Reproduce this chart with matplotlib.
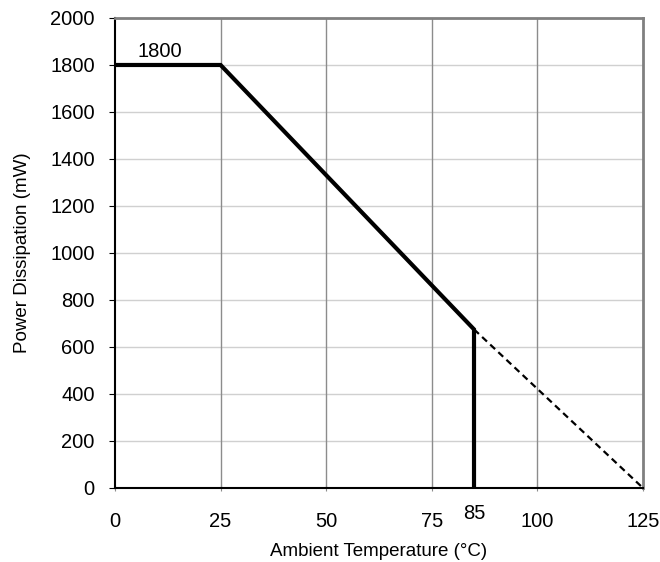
import matplotlib.pyplot as plt

plt.rcParams['font.family'] = ['Liberation Sans', 'DejaVu Sans']

# derating curve
solid_x = [0, 25, 85, 85]
solid_y = [1800, 1800, 675, 0]
dash_x = [85, 125]
dash_y = [675, 0]

x_ticks = [0, 25, 50, 75, 100, 125]
y_ticks = list(range(0, 2001, 200))

fig = plt.figure(figsize=(6.6, 5.62), dpi=100)
ax = fig.add_axes([0.1742, 0.1317, 0.8, 0.8363])

# grid: light horizontal, darker vertical
for y in y_ticks[1:-1]:
    ax.axhline(y, color='#d0d0d0', linewidth=1, zorder=1)
for x in x_ticks[1:-1]:
    ax.axvline(x, color='#8c8c8c', linewidth=1, zorder=1)

ax.plot(solid_x, solid_y, color='black', linewidth=3, solid_capstyle='butt',
        solid_joinstyle='miter', zorder=3)
ax.plot(dash_x, dash_y, color='black', linewidth=1.6, linestyle=(0, (3, 2)), zorder=3)

ax.text(10.5, 1815, '1800', ha='center', va='bottom', fontsize=14.5)

ax.set_xlim(0, 125)
ax.set_ylim(0, 2000)
ax.set_xticks(x_ticks)
ax.set_yticks(y_ticks)
ax.tick_params(axis='x', labelsize=14.5, pad=15, length=4, direction='inout', color='#8c8c8c')
ax.tick_params(axis='y', labelsize=14.5, pad=10.5, length=4, direction='out')

# the 85 label sits a little higher than the others
ax.text(85, -70, '85', ha='center', va='top', fontsize=14.5, clip_on=False)

for side in ['top', 'right']:
    ax.spines[side].set_color('#808080')
    ax.spines[side].set_linewidth(2)
for side in ['left', 'bottom']:
    ax.spines[side].set_color('black')
    ax.spines[side].set_linewidth(1.5)

ax.set_xlabel('Ambient Temperature (°C)', fontsize=13.5, labelpad=9)
ax.set_ylabel('Power Dissipation (mW)', fontsize=13.5, labelpad=14)

fig.savefig('out.png', dpi=100)
